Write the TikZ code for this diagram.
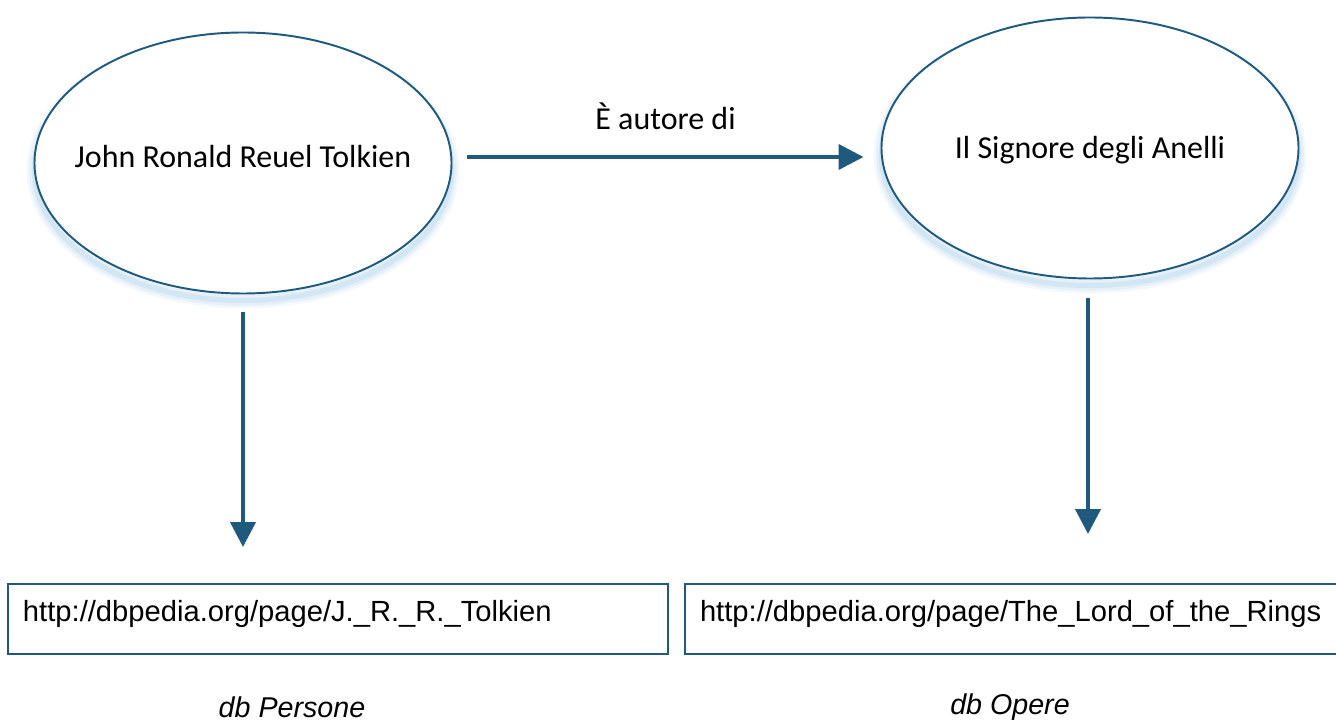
\documentclass[tikz,border=0pt]{standalone}
\usepackage{fontspec}
\setmainfont{Carlito}
\newfontfamily\urlfont{Liberation Sans}
\usepackage{tikz}
\usetikzlibrary{positioning,arrows.meta,shapes.geometric}
\definecolor{linkBlue}{HTML}{1F5A7E}
\definecolor{glowBlue}{HTML}{8CBCE0}

\begin{document}
\begin{tikzpicture}[
  every node/.style={font=\fontsize{18.2}{21}\selectfont, text=black},
  entity/.style={ellipse, draw=linkBlue, line width=1.1pt, fill=white,
    inner sep=0pt, minimum width=8.34cm, minimum height=5.22cm,
    preaction={draw=glowBlue, line width=9pt, draw opacity=0.10,
      transform canvas={yshift=-4pt}},
    preaction={draw=glowBlue, line width=6pt, draw opacity=0.14,
      transform canvas={yshift=-4pt}},
    preaction={draw=glowBlue, line width=3pt, draw opacity=0.20,
      transform canvas={yshift=-4pt}}},
  urlbox/.style={rectangle, draw=linkBlue, line width=1.1pt, align=left,
    minimum height=1.40cm, inner ysep=0pt, inner xsep=0.30cm,
    text height=0.42cm, text depth=0.32cm,
    font=\urlfont\fontsize{16.6}{19}\selectfont},
  dbname/.style={font=\urlfont\itshape\fontsize{16.3}{19}\selectfont},
  flow/.style={linkBlue, line width=2.3pt, -{Triangle[length=0.5cm,width=0.5cm]}},
]

% --- Frame ---
\useasboundingbox (0,0) rectangle (26.72,-14.44);

% --- Entities ---
\node[entity, label={[name=tolkientxt, yshift=0.12cm]center:John Ronald Reuel Tolkien}]
  (tolkien) at (4.86,-3.26) {};
\node[entity, label={[name=anellitxt, yshift=-0.04cm]center:Il Signore degli Anelli}]
  (anelli) at (21.80,-2.96) {};

% --- URI boxes ---
\node[urlbox, text width=12.60cm] (perbox) at (6.76,-12.38)
  {http://dbpedia.org/page/J.\_R.\_R.\_Tolkien};
\node[urlbox, text width=12.50cm] (opbox) at (20.25,-12.38)
  {http://dbpedia.org/page/The\_Lord\_of\_the\_Rings};

% --- Database names ---
\node[dbname] (persone) at (5.84,-14.14) {db Persone};
\node[dbname] (opere) at (20.20,-14.14) {db Opere};

% --- Relation ---
\draw[flow] ([xshift=0.30cm,yshift=0.12cm]tolkien.east)
  -- ([xshift=-0.34cm,yshift=0.12cm]tolkien.east -| anelli.west)
  node[midway, yshift=0.82cm] (rel) {È autore di};

% --- Links to the URIs ---
\draw[flow] ([yshift=-0.35cm]tolkien.south) -- ([yshift=0.72cm]tolkien.south |- perbox.north);
\draw[flow] ([yshift=-0.38cm,xshift=-0.04cm]anelli.south) -- ([yshift=0.98cm,xshift=-0.04cm]anelli.south |- opbox.north);

\end{tikzpicture}
\end{document}
